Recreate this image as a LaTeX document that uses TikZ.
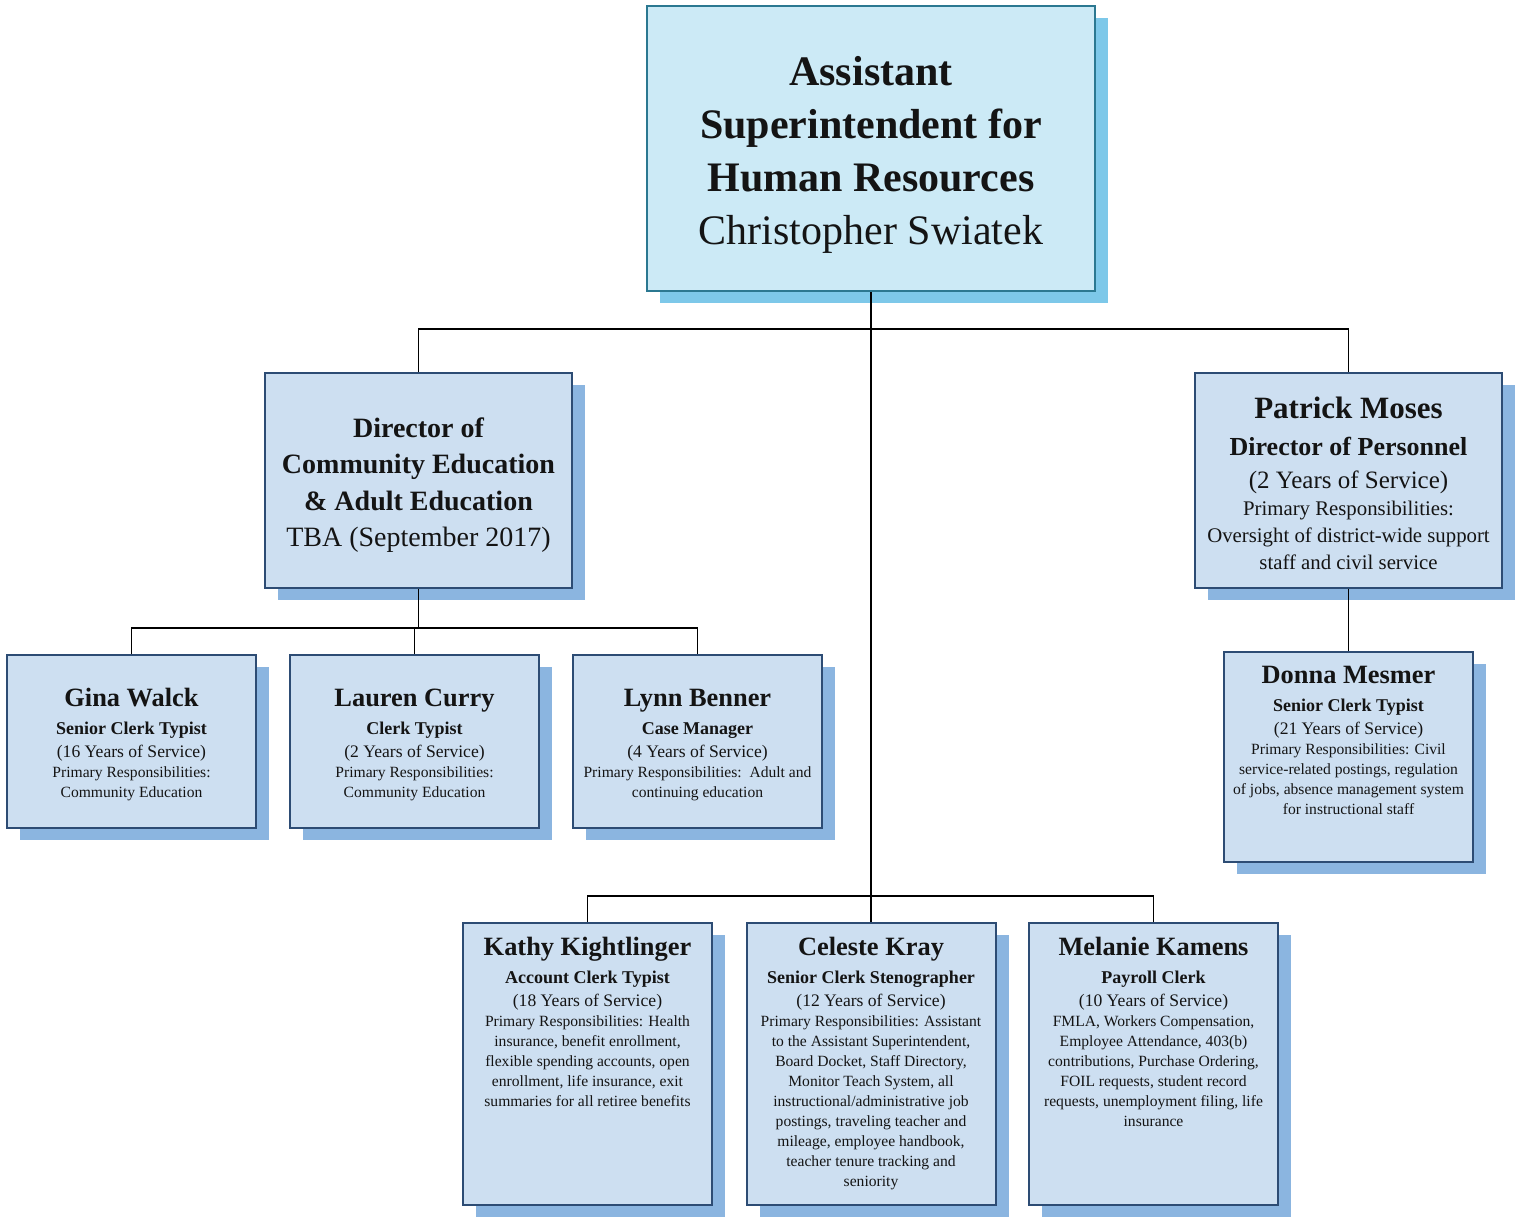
\documentclass[tikz,border=0pt]{standalone}
\usepackage{fontspec}
\setmainfont{Liberation Serif}
\usepackage{xcolor}
\usepackage{tikz}
\usetikzlibrary{calc,positioning,shadows}
\definecolor{Sky}{HTML}{CCEAF6}
\definecolor{Teal}{HTML}{2B7891}
\definecolor{SkyShade}{HTML}{7DC8E9}
\definecolor{Ice}{HTML}{CDDFF1}
\definecolor{Navy}{HTML}{2D4C74}
\definecolor{IceShade}{HTML}{8BB5E0}
\definecolor{Ink}{HTML}{141414}
\newcommand\NameFont{\fontsize{13.2}{15}\selectfont\bfseries}
\newcommand\RoleFont{\fontsize{9}{14}\selectfont\bfseries}
\newcommand\YearFont{\fontsize{8.8}{11.5}\selectfont}
\newcommand\DutyFont{\fontsize{7.8}{10}\selectfont}

\begin{document}
\begin{tikzpicture}[x=0.5pt,y=-0.5pt,
  box/.style={draw=Navy,fill=Ice,line width=1pt,text=Ink,align=flush center,inner sep=0pt,
    drop shadow={shadow xshift=6.5pt,shadow yshift=-6pt,fill=IceShade,opacity=1}},
  chief/.style={box,draw=Teal,fill=Sky,minimum width=224pt,minimum height=142.5pt,text width=220pt,
    drop shadow={shadow xshift=6.5pt,shadow yshift=-6pt,fill=SkyShade,opacity=1}},
  head/.style={box,minimum width=153.5pt,minimum height=107.5pt,text width=152pt},
  staff/.style={box,minimum width=124.5pt,minimum height=86.5pt,text width=124pt},
  tallstaff/.style={box,minimum width=124.5pt,minimum height=#1},
  wire/.style={draw=black,line width=0.9pt}]
\useasboundingbox (0,0) rectangle (1520,1216);

\node[chief] (asst) at (871,148.5) {\fontsize{21}{26.5}\selectfont{\bfseries Assistant\\Superintendent for\\Human Resources\par}Christopher Swiatek\par\vspace{-6pt}};

\node[head] (comed) at (418.5,480.5) {\fontsize{14}{18.25}\selectfont{\bfseries Director of\\Community Education\\\& Adult Education\par}TBA (September 2017)\par\vspace{-4.5pt}};
\node[head] (personnel) at (1348.5,480.5) {{\fontsize{15.5}{18}\selectfont\bfseries Patrick Moses\par}{\fontsize{13}{18.5}\selectfont\bfseries Director of Personnel\par}{\fontsize{12.5}{16.5}\selectfont (2 Years of Service)\par}\fontsize{10.4}{13.5}\selectfont Primary Responsibilities:\\Oversight of district-wide support\\staff and civil service\par\vspace{-2.5pt}};

\node[staff] (walck) at (131.5,741.5) {{\NameFont Gina Walck\par}{\RoleFont Senior Clerk Typist\par}{\YearFont (16 Years of Service)\par}\DutyFont Primary Responsibilities:\\Community Education\par\vspace{-3.5pt}};
\node[staff] (curry) at (414.5,741.5) {{\NameFont Lauren Curry\par}{\RoleFont Clerk Typist\par}{\YearFont (2 Years of Service)\par}\DutyFont Primary Responsibilities:\\Community Education\par\vspace{-3.5pt}};
\node[staff] (benner) at (697.5,741.5) {{\NameFont Lynn Benner\par}{\RoleFont Case Manager\par}{\YearFont (4 Years of Service)\par}\DutyFont Primary Responsibilities:\ \ Adult and\\continuing education\par\vspace{-3.5pt}};

\node[tallstaff=105pt] (mesmer) at (1348.5,757) {\parbox[c][91pt][t]{124pt}{\centering{\NameFont Donna Mesmer\par}{\RoleFont Senior Clerk Typist\par}{\YearFont (21 Years of Service)\par}\DutyFont Primary Responsibilities: Civil\\service-related postings, regulation\\of jobs, absence management system\\for instructional staff\par}};

\node[tallstaff=141pt] (kightlinger) at (587.5,1064) {\parbox[c][127pt][t]{124pt}{\centering{\NameFont Kathy Kightlinger\par}{\RoleFont Account Clerk Typist\par}{\YearFont (18 Years of Service)\par}\DutyFont Primary Responsibilities: Health\\insurance, benefit enrollment,\\flexible spending accounts, open\\enrollment, life insurance, exit\\summaries for all retiree benefits\par}};
\node[tallstaff=141pt] (kray) at (871,1064) {\parbox[c][127pt][t]{124pt}{\centering{\NameFont Celeste Kray\par}{\RoleFont Senior Clerk Stenographer\par}{\YearFont (12 Years of Service)\par}\DutyFont Primary Responsibilities: Assistant\\to the Assistant Superintendent,\\Board Docket, Staff Directory,\\Monitor Teach System, all\\instructional/administrative job\\postings, traveling teacher and\\mileage, employee handbook,\\teacher tenure tracking and\\seniority\par}};
\node[tallstaff=141pt] (kamens) at (1153.5,1064) {\parbox[c][127pt][t]{124pt}{\centering{\NameFont Melanie Kamens\par}{\RoleFont Payroll Clerk\par}{\YearFont (10 Years of Service)\par}\DutyFont FMLA, Workers Compensation,\\Employee Attendance, 403(b)\\contributions, Purchase Ordering,\\FOIL requests, student record\\requests, unemployment filing, life\\insurance\par}};

% connectors
\coordinate (fork) at (871,329);
\coordinate (lowfork) at (871,896);
\coordinate (edfork) at (418.5,628);
\draw[wire] (asst.south) -- (fork);
\draw[wire] (comed.north) |- (fork) -| (personnel.north);
\draw[wire] (fork) -- (lowfork);
\draw[wire] (kightlinger.north) |- (lowfork) -| (kamens.north);
\draw[wire] (lowfork) -- (kray.north);
\draw[wire] (comed.south) -- (edfork);
\draw[wire] (walck.north) |- (edfork) -| (benner.north);
\draw[wire] (edfork) -| (curry.north);
\draw[wire] (personnel) -- (mesmer);
\end{tikzpicture}
\end{document}
